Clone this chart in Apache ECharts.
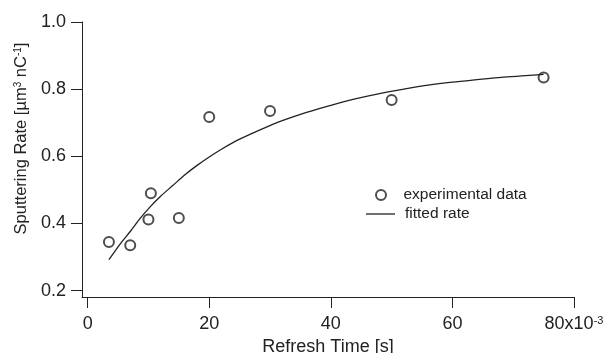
<!DOCTYPE html>
<html>
<head>
<meta charset="utf-8">
<script src="https://cdn.jsdelivr.net/npm/echarts@6/dist/echarts.min.js"></script>
<style>
  html, body { margin: 0; padding: 0; background: #fff; }
  #chart { width: 607px; height: 353px; }
</style>
</head>
<body>
<div id="chart"></div>
<script>
// measured points (x in 10^-3 s)
const expX = [3.5, 7, 10, 10.4, 15, 20, 30, 50, 75];
const expY = [0.345, 0.335, 0.412, 0.490, 0.416, 0.717, 0.735, 0.768, 0.835];

// fitted curve
const fitX = [3.5, 5.3, 7, 8.5, 10.2, 12, 14, 16, 18, 20, 22, 25, 29.4, 32, 36, 40, 44, 48, 52, 56, 60, 64.5, 68, 72, 75];
const fitY = [0.292, 0.338, 0.376, 0.412, 0.448, 0.481, 0.513, 0.545, 0.573, 0.598, 0.621, 0.651, 0.687, 0.706, 0.731, 0.752, 0.771, 0.787, 0.800, 0.812, 0.821, 0.829, 0.835, 0.840, 0.844];

const xTicks = [0, 20, 40, 60, 80];
const yTicks = [0.2, 0.4, 0.6, 0.8, 1.0];

const font = "'Liberation Sans', Arial, Helvetica, sans-serif";
const ink = "#222";

const chart = echarts.init(document.getElementById("chart"), null, { renderer: "canvas" });

const legendText = { fontFamily: font, fontSize: 15.5, lineHeight: 16, color: ink, padding: [0, 0, 0, 5] };

const option = {
  animation: false,
  backgroundColor: "#fff",
  textStyle: { fontFamily: font, color: ink },
  grid: { left: 82, right: 33, top: 22, bottom: 56, outerBoundsMode: "none", containLabel: false },
  legend: [
    {
      orient: "vertical",
      left: 375,
      top: 187,
      padding: 0,
      itemWidth: 29,
      itemHeight: 10,
      data: ["experimental data"],
      textStyle: { ...legendText, padding: [0, 0, 0, 3] },
    },
    {
      orient: "vertical",
      left: 366,
      top: 206,
      padding: 0,
      itemWidth: 29,
      itemHeight: 1.3,
      icon: "rect",
      data: [{ name: "fitted rate", itemStyle: { color: ink } }],
      textStyle: legendText,
    },
  ],
  xAxis: {
    type: "value",
    min: -0.93,
    max: 80,
    name: "Refresh Time [s]",
    nameLocation: "middle",
    nameGap: 29,
    nameTextStyle: { fontFamily: font, fontSize: 18, color: ink },
    axisLine: { show: true, onZero: false, lineStyle: { color: ink, width: 1 } },
    axisTick: { show: true, customValues: xTicks, length: 11, lineStyle: { color: ink } },
    axisLabel: {
      customValues: xTicks,
      margin: 18,
      fontFamily: font,
      fontSize: 18,
      color: ink,
      formatter: (v) => (v === 80 ? "{n|80x10}{s|-3}" : String(v)),
      rich: {
        n: { fontFamily: font, fontSize: 18, color: ink },
        s: { fontFamily: font, fontSize: 11, color: ink, verticalAlign: "top" },
      },
    },
    splitLine: { show: false },
  },
  yAxis: {
    type: "value",
    min: 0.181,
    max: 1.0,
    name: "{n|Sputtering Rate [µm}{s|3}{n| nC}{s|-1}{n|]}",
    nameLocation: "middle",
    nameRotate: 90,
    nameGap: 49,
    nameTextStyle: {
      padding: [0, 0, 0, 42],
      rich: {
        n: { fontFamily: font, fontSize: 16.5, color: ink },
        s: { fontFamily: font, fontSize: 10, color: ink, verticalAlign: "top" },
      },
    },
    axisLine: { show: true, onZero: false, lineStyle: { color: ink, width: 1 } },
    axisTick: { show: true, customValues: yTicks, length: 11, lineStyle: { color: ink } },
    axisLabel: {
      customValues: yTicks,
      margin: 16,
      fontFamily: font,
      fontSize: 18,
      color: ink,
      formatter: (v) => v.toFixed(1),
    },
    splitLine: { show: false },
  },
  series: [
    {
      name: "experimental data",
      type: "scatter",
      symbol: "emptyCircle",
      symbolSize: 10,
      itemStyle: { color: ink, borderWidth: 1 },
      data: expX.map((x, i) => [x, expY[i]]),
    },
    {
      name: "fitted rate",
      type: "line",
      symbol: "none",
      smooth: 0.3,
      lineStyle: { color: ink, width: 1.3 },
      itemStyle: { color: ink },
      data: fitX.map((x, i) => [x, fitY[i]]),
    },
  ],
};

chart.setOption(option);
</script>
</body>
</html>
